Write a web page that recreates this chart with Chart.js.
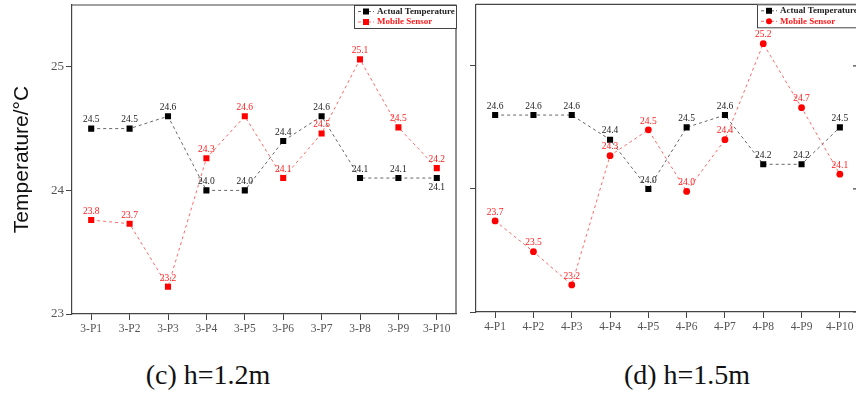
<!DOCTYPE html>
<html>
<head>
<meta charset="utf-8">
<script src="https://cdn.jsdelivr.net/npm/chart.js@4.4.1/dist/chart.umd.min.js"></script>
<style>
  html, body { margin: 0; padding: 0; background: #fff; }
  body { width: 856px; height: 396px; overflow: hidden; position: relative; }
  .panel { position: absolute; top: 0; height: 345px; }
  .caption { position: absolute; top: 359px; font-family: "Liberation Serif", serif; font-size: 28px; color: #111; white-space: nowrap; transform: translateX(-50%); }
</style>
</head>
<body>
<div class="panel" style="left:0;width:470px"><canvas id="chart-c"></canvas></div>
<div class="panel" style="left:460px;width:420px"><canvas id="chart-d"></canvas></div>
<div class="caption" style="left:208px">(c) h=1.2m</div>
<div class="caption" style="left:687px">(d) h=1.5m</div>
<script>
// 数据 (c) h=1.2m
const pointsC = ['3-P1', '3-P2', '3-P3', '3-P4', '3-P5', '3-P6', '3-P7', '3-P8', '3-P9', '3-P10'];
const actualC = [24.5, 24.5, 24.6, 24.0, 24.0, 24.4, 24.6, 24.1, 24.1, 24.1];
const sensorC = [23.76, 23.73, 23.22, 24.26, 24.6, 24.1, 24.46, 25.06, 24.51, 24.18];

// 数据 (d) h=1.5m
const pointsD = ['4-P1', '4-P2', '4-P3', '4-P4', '4-P5', '4-P6', '4-P7', '4-P8', '4-P9', '4-P10'];
const actualD = [24.6, 24.6, 24.6, 24.4, 24.0, 24.5, 24.6, 24.2, 24.2, 24.5];
const sensorD = [23.74, 23.49, 23.22, 24.27, 24.48, 23.98, 24.4, 25.18, 24.66, 24.12];

const yTicks = [23, 24, 25];

const serif = '"Liberation Serif", "Times New Roman", serif';
const frameColor = '#444';

// 数值标签
const valueLabels = {
    id: 'valueLabels',
    afterDatasetsDraw(chart, args, opts) {
        const ctx = chart.ctx;
        ctx.save();
        ctx.font = '9.5px ' + serif;
        ctx.textAlign = 'center';
        chart.data.datasets.forEach(function(ds, di) {
            const below = (opts.below && opts.below[di]) || [];
            ctx.fillStyle = ds.labelColor;
            chart.getDatasetMeta(di).data.forEach(function(pt, i) {
                const down = below.indexOf(i) >= 0;
                ctx.textBaseline = down ? 'top' : 'bottom';
                ctx.fillText(ds.data[i].toFixed(1), pt.x, down ? pt.y + 5 : pt.y - 4);
            });
        });
        ctx.restore();
    }
};

// 边框和图例
const frameLegend = {
    id: 'frameLegend',
    afterDraw(chart, args, opts) {
        const ctx = chart.ctx;
        const a = chart.chartArea;
        ctx.save();
        ctx.strokeStyle = frameColor;
        ctx.lineWidth = 1.2;
        ctx.beginPath();
        ctx.moveTo(a.left, a.top);
        ctx.lineTo(a.right, a.top);
        ctx.lineTo(a.right, a.bottom);
        ctx.stroke();
        if (opts.rightTicks) {
            const ys = chart.scales.y;
            ctx.beginPath();
            yTicks.forEach(function(v) {
                const py = ys.getPixelForValue(v);
                ctx.moveTo(a.right, py);
                ctx.lineTo(a.right - 6, py);
            });
            ctx.stroke();
        }

        const bw = 102, bh = 23;
        const bx = a.right - bw, by = a.top;
        ctx.fillStyle = '#fff';
        ctx.fillRect(bx, by, bw, bh);
        ctx.lineWidth = 1;
        ctx.strokeRect(bx + 0.5, by + 0.5, bw, bh);
        ctx.font = 'bold 9px ' + serif;
        ctx.textBaseline = 'middle';
        chart.data.datasets.forEach(function(ds, di) {
            const ry = by + 6.5 + di * 10.5;
            ctx.strokeStyle = ds.borderColor;
            ctx.setLineDash([3, 2]);
            ctx.beginPath();
            ctx.moveTo(bx + 4, ry);
            ctx.lineTo(bx + 20, ry);
            ctx.stroke();
            ctx.setLineDash([]);
            ctx.fillStyle = ds.pointBackgroundColor;
            if (ds.pointStyle === 'circle') {
                ctx.beginPath();
                ctx.arc(bx + 12, ry, 3, 0, Math.PI * 2);
                ctx.fill();
            } else {
                ctx.fillRect(bx + 9, ry - 3, 6, 6);
            }
            ctx.fillStyle = ds.labelColor;
            ctx.fillText(ds.label, bx + 23, ry);
        });
        ctx.restore();
    }
};

function makeChart(id, points, actual, sensor, sensorStyle, cfg) {
    const ctx = document.getElementById(id).getContext('2d');
    return new Chart(ctx, {
        type: 'line',
        data: {
            labels: points,
            datasets: [{
                label: 'Actual Temperature',
                data: actual,
                borderColor: '#666',
                borderWidth: 1,
                borderDash: [3, 3],
                pointStyle: 'rect',
                pointRadius: 4.3,
                pointBackgroundColor: '#000',
                pointBorderWidth: 0,
                labelColor: '#222',
                tension: 0
            }, {
                label: 'Mobile Sensor',
                data: sensor,
                borderColor: '#ff6a6a',
                borderWidth: 1,
                borderDash: [3, 3],
                pointStyle: sensorStyle,
                pointRadius: sensorStyle === 'circle' ? 3.4 : 4.3,
                pointBackgroundColor: '#ff0000',
                pointBorderWidth: 0,
                labelColor: '#ff1a1a',
                tension: 0
            }]
        },
        options: {
            responsive: true,
            maintainAspectRatio: false,
            animation: false,
            events: [],
            layout: { padding: cfg.padding },
            plugins: {
                legend: { display: false },
                tooltip: { enabled: false },
                valueLabels: { below: cfg.below },
                frameLegend: { rightTicks: cfg.rightTicks }
            },
            scales: {
                x: {
                    type: 'category',
                    offset: true,
                    grid: { offset: false, drawOnChartArea: false, tickLength: 6, color: frameColor },
                    border: { color: frameColor, width: 1.2 },
                    ticks: { color: '#555', font: { family: serif, size: 11.5 }, padding: 2, autoSkip: false, maxRotation: 0 },
                    afterFit: function(s) { s.height = cfg.xHeight; s.paddingLeft = 0; s.paddingRight = 0; }
                },
                y: {
                    min: 23,
                    max: 25.5,
                    afterBuildTicks: function(s) { s.ticks = yTicks.map(function(v) { return { value: v }; }); },
                    grid: { drawOnChartArea: false, tickLength: 6, color: frameColor },
                    border: { color: frameColor, width: 1.2 },
                    ticks: { display: cfg.yLabels, color: '#555', font: { family: serif, size: 13 }, padding: 2 },
                    title: {
                        display: cfg.yLabels,
                        text: 'Temperature/°C',
                        color: '#111',
                        font: { family: '"Liberation Sans", Arial, sans-serif', size: 21 },
                        padding: { top: 10, bottom: 0 }
                    },
                    afterFit: function(s) { s.width = cfg.yWidth; s.paddingTop = 0; s.paddingBottom = 0; }
                }
            }
        },
        plugins: [valueLabels, frameLegend]
    });
}

makeChart('chart-c', pointsC, actualC, sensorC, 'rect', {
    padding: { top: 5, right: 14, left: 0, bottom: 0 },
    xHeight: 31, yWidth: 72, yLabels: true, rightTicks: false,
    below: [[9], []]
});

makeChart('chart-d', pointsD, actualD, sensorD, 'circle', {
    padding: { top: 2, right: 21, left: 0, bottom: 0 },
    xHeight: 33, yWidth: 16, yLabels: false, rightTicks: true,
    below: [[], []]
});
</script>
</body>
</html>
